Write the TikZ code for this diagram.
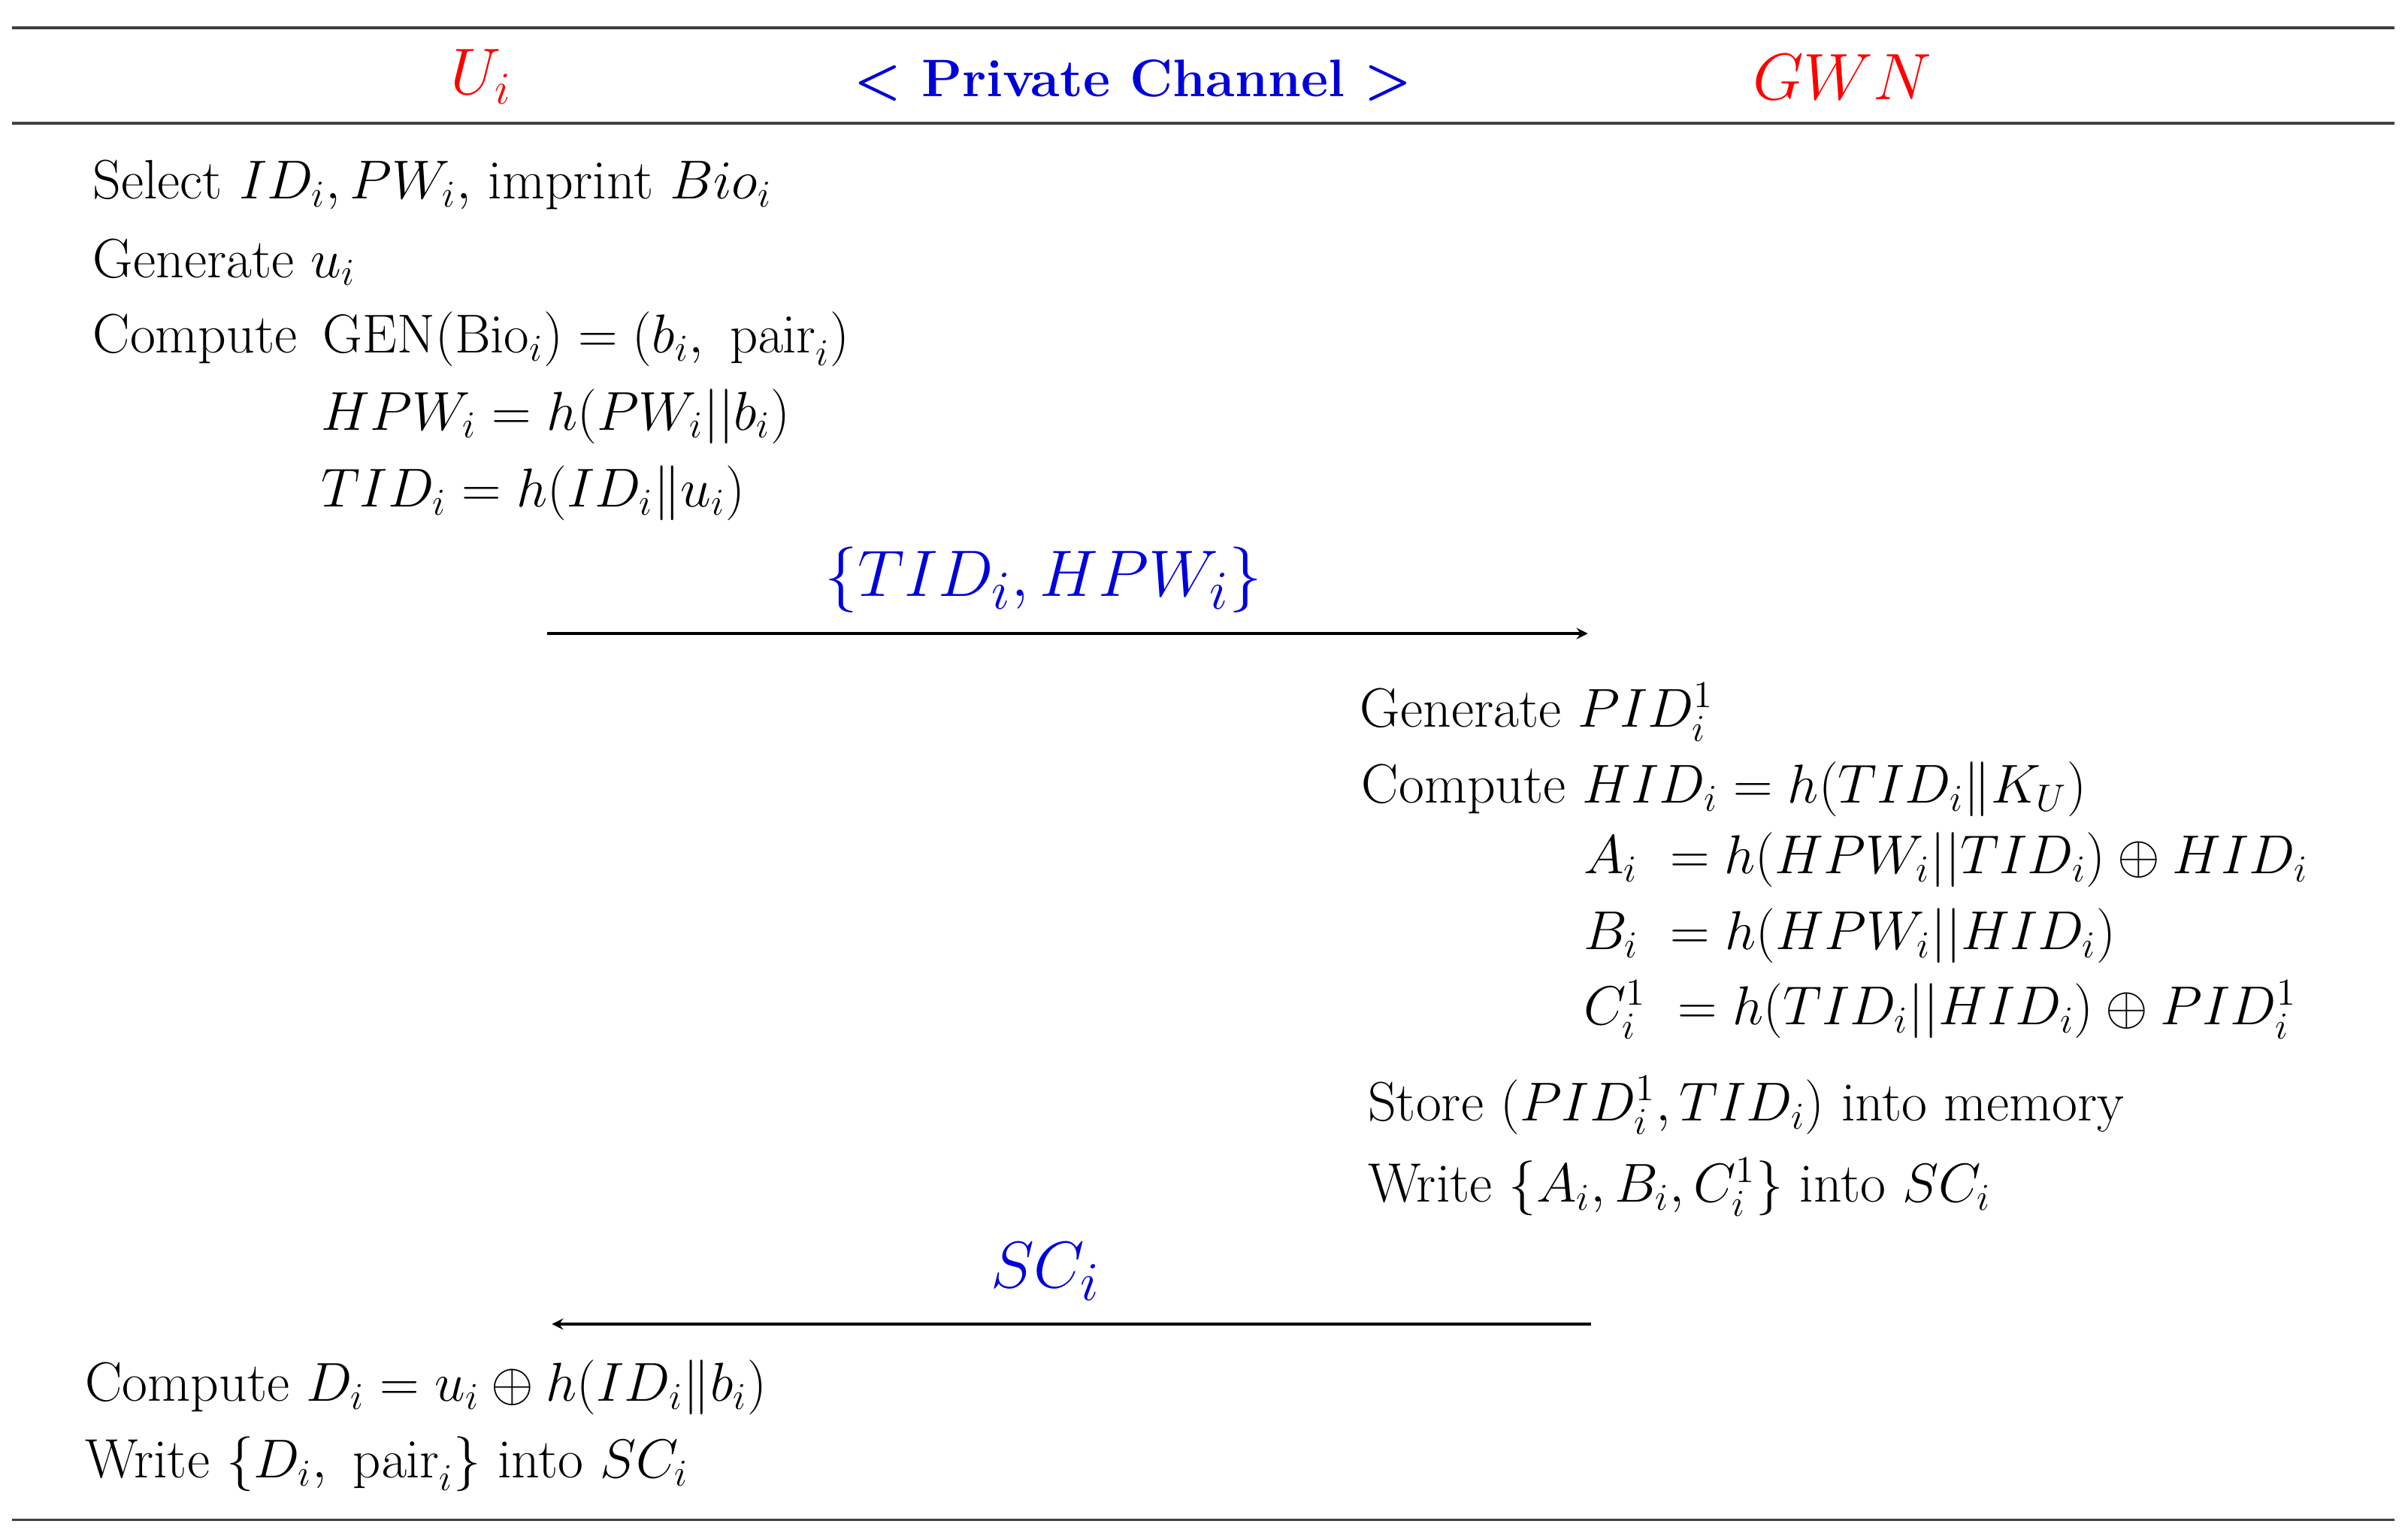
\documentclass[tikz,border=0pt]{standalone}
\usepackage{amsmath}
\begin{document}
\begin{tikzpicture}[x=0.02051cm,y=-0.02051cm,
  txt/.style={anchor=west,inner sep=0pt,font=\fontsize{21}{24}\selectfont},
  hdr/.style={inner sep=0pt,font=\fontsize{27}{30}\selectfont},
  msg/.style={inner sep=0pt,text=blue!85!black,font=\fontsize{30}{34}\selectfont},
  rule/.style={line width=1pt,draw=black!75},
  arr/.style={-stealth,line width=0.9pt}]
\useasboundingbox (0,0) rectangle (1562,998);
\draw[rule] (8,18) -- (1553,18);
\draw[rule] (8,80) -- (1553,80);
\draw[rule] (8,986) -- (1553,986);
\node[hdr,text=red] (u) at (312,50) {$U_i$};
\node[inner sep=0pt,text=blue!85!black,font=\fontsize{20}{24}\selectfont\bfseries] (pc) at (735,52) {< Private Channel >};
\node[hdr,text=red] (g) at (1195,50) {$GWN$};
\node[txt] (l1) at (60,120) {Select $ID_i, PW_i,$ imprint $Bio_i$};
\node[txt] (l2) at (60,170) {Generate $u_i$};
\node[txt] (l3) at (60,220) {Compute $\,\mathrm{GEN}(\mathrm{Bio}_i)=(b_i,\ \mathrm{pair}_i)$};
\node[txt] (l4) at (208,270) {$HPW_i=h(PW_i||b_i)$};
\node[txt] (l5) at (208,320) {$TID_i=h(ID_i\|u_i)$};
\node[msg] (m1) at (677,376) {$\{TID_i,HPW_i\}$};
\coordinate (a1s) at (355,411); \coordinate (a1e) at (1030,411);
\draw[arr] (a1s) -- (a1e);
\node[txt] (r1) at (882,462) {Generate $PID_i^1$};
\node[txt] (r2) at (883,512) {Compute $HID_i=h(TID_i\|K_U)$};
\node[txt] (r3) at (1027,558) {$A_i\ =h(HPW_i||TID_i)\oplus HID_i$};
\node[txt] (r4) at (1027,607) {$B_i\ =h(HPW_i||HID_i)$};
\node[txt] (r5) at (1027,655) {$C_i^1\ =h(TID_i||HID_i)\oplus PID_i^1$};
\node[txt] (r6) at (887,717) {Store $(PID_i^1,TID_i)$ into memory};
\node[txt] (r7) at (887,770) {Write $\{A_i,B_i,C_i^1\}$ into $SC_i$};
\node[msg] (m2) at (678,825) {$SC_i$};
\coordinate (a2s) at (1032,859); \coordinate (a2e) at (358,859);
\draw[arr] (a2s) -- (a2e);
\node[txt] (b1) at (55,900) {Compute $D_i=u_i\oplus h(ID_i\|b_i)$};
\node[txt] (b2) at (55,950) {Write $\{D_i,\ \mathrm{pair}_i\}$ into $SC_i$};
\end{tikzpicture}
\end{document}
